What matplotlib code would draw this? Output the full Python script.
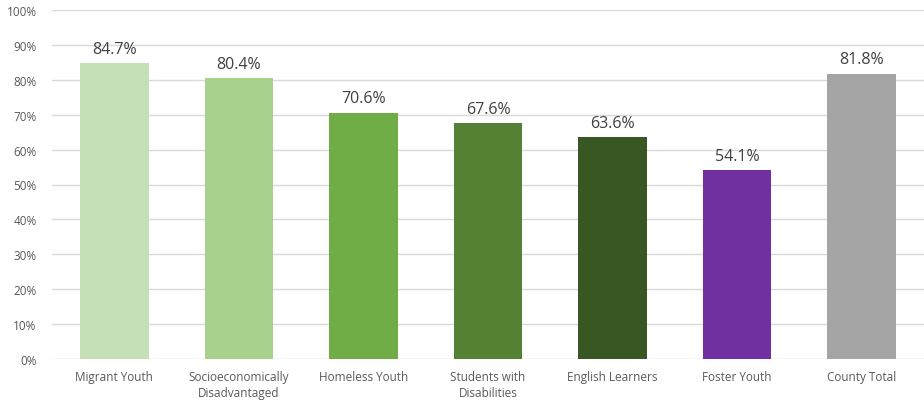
import matplotlib
matplotlib.use('Agg')
import matplotlib.pyplot as plt
from matplotlib.ticker import PercentFormatter

# data
categories = ['Migrant Youth', 'Socioeconomically\nDisadvantaged', 'Homeless Youth',
              'Students with\nDisabilities', 'English Learners', 'Foster Youth', 'County Total']
values = [84.7, 80.4, 70.6, 67.6, 63.6, 54.1, 81.8]
colors = ['#C5E0B4', '#A9D18E', '#70AD47', '#548235', '#385723', '#7030A0', '#A5A5A5']

plt.rcParams['font.family'] = ['Open Sans', 'DejaVu Sans']
txt = '#595959'

fig = plt.figure(figsize=(9.24, 4.02), dpi=100)
ax = fig.add_axes([52/924, 1-360/402, 872/924, (360-11)/402])

x = range(len(categories))
bars = ax.bar(x, values, width=0.55, color=colors, zorder=3)
for b, v in zip(bars, values):
    ax.text(b.get_x() + b.get_width()/2, v + 1.8, f'{v:.1f}%', ha='center', va='bottom',
            fontsize=11.5, color='#404040')

ax.set_ylim(0, 100)
ax.set_xlim(-0.5, len(categories) - 0.5)
ax.set_yticks(range(0, 101, 10))
ax.yaxis.set_major_formatter(PercentFormatter(decimals=0))
ax.set_xticks(list(x))
ax.set_xticklabels(categories, fontsize=8.5, color=txt, linespacing=1.25)
ax.tick_params(axis='y', labelsize=8.5, labelcolor=txt, length=0, pad=11)
ax.tick_params(axis='x', length=0, pad=8)
ax.grid(axis='y', color='#D9D9D9', linewidth=1, zorder=0)
for s in ax.spines.values():
    s.set_visible(False)

fig.savefig('out.png', dpi=100)
